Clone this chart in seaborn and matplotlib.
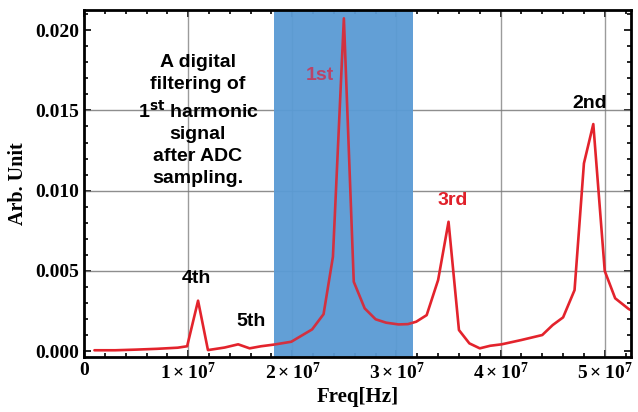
import numpy as np
import pandas as pd
import matplotlib
matplotlib.use("Agg")
import matplotlib.pyplot as plt
import seaborn as sns
from matplotlib.ticker import MultipleLocator, FuncFormatter

# spectrum samples (frequency in Hz, amplitude arb.)
freq_mhz = [1.0, 3.0, 5.0, 7.0, 9.0, 9.9, 10.95, 11.9, 13.5, 14.8, 15.9, 17.0,
            18.2, 19.9, 21.9, 23.0, 23.9, 24.95, 25.9, 26.95, 28.0, 29.0, 30.2,
            31.1, 31.9, 32.9, 34.0, 35.0, 36.0, 37.0, 38.0, 39.0, 40.1, 42.0,
            44.0, 45.0, 46.0, 47.1, 48.0, 48.9, 50.0, 51.0, 52.3, 53.0]
amplitude = [0.00005, 0.00005, 0.00009, 0.00014, 0.00021, 0.0003, 0.00314, 0.00006,
             0.00022, 0.00042, 0.00017, 0.0003, 0.0004, 0.00058, 0.00135, 0.0023,
             0.00588, 0.02074, 0.00432, 0.00266, 0.00198, 0.00177, 0.00166,
             0.00168, 0.00183, 0.00224, 0.00443, 0.00806, 0.00131, 0.00048,
             0.00017, 0.00033, 0.00042, 0.00069, 0.001, 0.00162, 0.0021, 0.0038,
             0.0117, 0.01415, 0.00499, 0.00329, 0.00262, 0.0024]

band = (1.823e7, 3.157e7)
note = "A digital\nfiltering of\n1$^{\\mathbf{st}}$ harmonic\nsignal\nafter ADC\nsampling."
harmonic_labels = ["1st", "2nd", "3rd", "4th", "5th"]
label_x = [2.265e7, 4.856e7, 3.54e7, 1.075e7, 1.60e7]
label_y = [0.0172, 0.01546, 0.0094, 0.00455, 0.00187]
label_colors = ["#c8395a", "black", "#e0202a", "black", "black"]

df = pd.DataFrame({"freq": np.array(freq_mhz) * 1e6, "amp": amplitude})

sns.set_style("ticks")
plt.rcParams["font.family"] = ["Liberation Serif", "DejaVu Serif"]
plt.rcParams["text.color"] = "black"
plt.rcParams["axes.labelcolor"] = "black"
plt.rcParams["xtick.color"] = "black"
plt.rcParams["ytick.color"] = "black"
plt.rcParams["mathtext.fontset"] = "custom"
plt.rcParams["mathtext.rm"] = "Liberation Serif:bold"
plt.rcParams["mathtext.bf"] = "Liberation Serif:bold"
plt.rcParams["mathtext.it"] = "Liberation Serif:bold"

fig = plt.figure(figsize=(6.38, 4.12), dpi=100)
ax = fig.add_axes([0.1317, 0.1335, 0.857, 0.8422])

ax.axvspan(*band, color="#5b9bd5", alpha=0.95, lw=0, zorder=1)
for gx in [1e7, 2e7, 3e7, 4e7, 5e7]:
    ax.axvline(gx, color="#7a7a7a", lw=1.0, alpha=0.75, zorder=0.8)
for gy in [0.005, 0.010, 0.015]:
    ax.axhline(gy, color="#7a7a7a", lw=1.0, alpha=0.85, zorder=0.8)

sns.lineplot(data=df, x="freq", y="amp", ax=ax, color="#e3232c", lw=1.9,
             zorder=3, sort=False)

for txt, lx, ly, c in zip(harmonic_labels, label_x, label_y, label_colors):
    ax.text(lx, ly, txt, color=c, fontsize=14, fontweight="bold",
            family="Liberation Sans", ha="center", va="center", zorder=4)

ax.text(1.094e7, 0.01437, note, fontsize=14, fontweight="bold",
        family="Liberation Sans", ha="center", va="center",
        linespacing=1.38, zorder=4, math_fontfamily="dejavusans")

# faint blue veil over the band so the curve reads pinkish there
ax.axvspan(*band, color="#5b9bd5", alpha=0.12, lw=0, zorder=5)

ax.set_xlim(0, 5.25e7)
ax.set_ylim(-0.00037, 0.02126)
ax.set_xticks([0, 1e7, 2e7, 3e7, 4e7, 5e7])
ax.xaxis.set_major_formatter(FuncFormatter(
    lambda v, p: "0" if v == 0 else r"$%d\times10^{7}$" % round(v / 1e7)))
ax.set_yticks([0, 0.005, 0.010, 0.015, 0.020])
ax.yaxis.set_major_formatter(FuncFormatter(lambda v, p: "%.3f" % v))
ax.xaxis.set_minor_locator(MultipleLocator(2e6))
ax.yaxis.set_minor_locator(MultipleLocator(0.001))
ax.tick_params(which="both", direction="in", top=True, right=True, width=1.2)
ax.tick_params(which="major", length=5, labelsize=14)
ax.tick_params(which="minor", length=3)
for lab in ax.get_xticklabels() + ax.get_yticklabels():
    lab.set_fontweight("bold")

for s in ax.spines.values():
    s.set_linewidth(2)
    s.set_color("black")
    s.set_zorder(6)

ax.set_xlabel("Freq[Hz]", fontsize=15, fontweight="bold", labelpad=3)
ax.set_ylabel("Arb. Unit", fontsize=14.5, fontweight="bold", labelpad=5)

fig.savefig("out.png", dpi=100)
